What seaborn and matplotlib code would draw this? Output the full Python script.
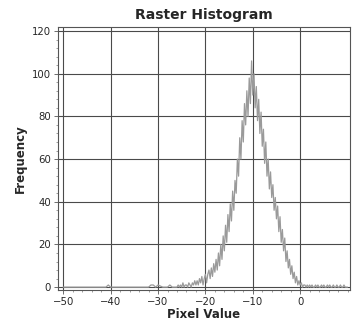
import numpy as np
import pandas as pd
import matplotlib
matplotlib.use("Agg")
import matplotlib.pyplot as plt
import seaborn as sns
from matplotlib.ticker import MultipleLocator, FixedLocator

# Sparse far-left tail (pixel value, frequency)
tail_values = [-50, -41, -40.5, -40, -33, -32, -31.5, -31, -30.5, -30, -29, -28, -27.5, -27, -26.5]
tail_freq = [0, 0, 1, 0, 0, 0, 1, 1, 0, 1, 0, 0, 1, 0, 0]

# Main bins, 0.25 wide from -26 to 10
main_start = -26.0
main_step = 0.25
main_freq = [
    0, 1, 0, 1, 0, 2, 0, 1, 1, 0, 2, 1, 0, 2, 1, 3, 1,
    3, 1, 4, 2, 5, 1, 4, 6, 2, 6, 8, 4, 9, 5, 11, 7,
    13, 8, 16, 10, 20, 13, 24, 17, 29, 21, 34, 26, 39, 31, 45, 36,
    50, 44, 60, 52, 70, 60, 78, 68, 86, 76, 92, 80, 98, 86, 106, 90,
    100, 84, 94, 78, 88, 72, 82, 66, 74, 58, 68, 52, 60, 46, 54, 42,
    48, 36, 42, 32, 38, 26, 33, 21, 27, 17, 23, 12, 17, 9, 13, 6,
    10, 4, 7, 2, 5, 1, 3, 1, 2, 0, 1, 1, 0, 1, 0, 1,
    0, 1, 0, 0, 1, 0, 1, 0, 0, 1, 0, 1, 0, 0, 1, 0,
    1, 0, 0, 1, 0, 0, 1, 0, 0, 1, 0, 0, 1, 0, 0, 0,
]
main_values = main_start + main_step * np.arange(len(main_freq))

x_ticks = [-50, -40, -30, -20, -10, 0]
y_ticks = [0, 20, 40, 60, 80, 100, 120]

df = pd.DataFrame({
    "Pixel Value": np.concatenate([tail_values, main_values]),
    "Frequency": np.concatenate([tail_freq, main_freq]),
})

sns.set_theme(style="white")
plt.rcParams["font.family"] = ["DejaVu Sans"]

fig = plt.figure(figsize=(3.52, 3.25), dpi=100)
ax = fig.add_axes([0.165, 0.108, 0.829, 0.809])

ax.grid(True, which="major", color="#4a4a4a", linewidth=0.8)
ax.set_axisbelow(True)
sns.lineplot(data=df, x="Pixel Value", y="Frequency", ax=ax,
             color="#9a9a9a", linewidth=0.9, zorder=3)

ax.set_xlim(-51.1, 10.5)
ax.set_ylim(-1.3, 121.9)
ax.xaxis.set_major_locator(FixedLocator(x_ticks))
ax.xaxis.set_minor_locator(MultipleLocator(2))
ax.yaxis.set_major_locator(FixedLocator(y_ticks))
ax.yaxis.set_minor_locator(MultipleLocator(4))
ax.tick_params(axis="both", which="major", labelsize=7.3, length=3, width=0.6,
               color="#555555", direction="out", pad=2, bottom=True, left=True)
ax.tick_params(axis="both", which="minor", length=1.5, width=0.5,
               color="#777777", direction="out", bottom=True, left=True)

for s in ["left", "bottom", "top", "right"]:
    ax.spines[s].set_color("#555555")
    ax.spines[s].set_linewidth(0.8)

ax.set_title("Raster Histogram", fontsize=10, fontweight="bold", pad=6)
ax.set_xlabel("Pixel Value", fontsize=8.5, fontweight="bold", labelpad=1)
ax.set_ylabel("Frequency", fontsize=8.5, fontweight="bold", labelpad=4)

fig.savefig("out.png", dpi=100)
